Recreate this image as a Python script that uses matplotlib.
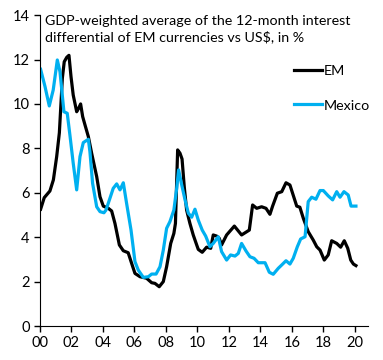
import matplotlib.pyplot as plt

# EM - GDP-weighted 12m interest differential, %
em_t = [2000.04, 2000.27, 2000.63, 2000.85, 2001.06, 2001.23, 2001.42, 2001.54, 2001.7, 2001.84,
        2001.97, 2002.11, 2002.33, 2002.45, 2002.58, 2002.71, 2002.86, 2003.07, 2003.28, 2003.6,
        2003.81, 2004.02, 2004.34, 2004.55, 2004.76, 2005.04, 2005.29, 2005.6, 2005.82, 2006.03,
        2006.35, 2006.77, 2007.09, 2007.3, 2007.57, 2007.83, 2008.04, 2008.3, 2008.5, 2008.6,
        2008.74, 2008.89, 2009.02, 2009.16, 2009.31, 2009.52, 2009.73, 2009.95, 2010.05, 2010.3,
        2010.58, 2010.84, 2011.0, 2011.22, 2011.38, 2011.53, 2011.85, 2012.34, 2012.8, 2013.29,
        2013.5, 2013.76, 2014.07, 2014.35, 2014.6, 2014.77, 2015.07, 2015.35, 2015.62, 2015.87,
        2016.3, 2016.5, 2016.72, 2017.03, 2017.35, 2017.57, 2017.78, 2018.05, 2018.3, 2018.52,
        2018.84, 2019.09, 2019.32, 2019.54, 2019.73, 2019.9, 2020.06]
em = [5.26, 5.78, 6.08, 6.58, 7.63, 8.7, 11.16, 11.9, 12.1, 12.19,
      11.23, 10.4, 9.65, 9.8, 10.0, 9.43, 9.05, 8.53, 7.78, 6.73,
      5.82, 5.4, 5.3, 5.18, 4.62, 3.65, 3.39, 3.3, 2.82, 2.37,
      2.22, 2.15, 1.95, 1.92, 1.77, 2.0, 2.67, 3.72, 4.17, 4.62,
      7.93, 7.78, 7.52, 6.27, 5.22, 4.62, 4.1, 3.65, 3.45, 3.32,
      3.55, 3.5, 4.1, 4.05, 3.95, 3.65, 4.1, 4.5, 4.1, 4.32,
      5.45, 5.3, 5.37, 5.3, 5.03, 5.4, 5.98, 6.05, 6.45, 6.35,
      5.4, 5.35, 4.85, 4.25, 3.87, 3.57, 3.42, 2.97, 3.2, 3.84,
      3.72, 3.55, 3.84, 3.5, 2.97, 2.79, 2.72]

# Mexico
mx_t = [2000.04, 2000.32, 2000.59, 2000.84, 2001.1, 2001.27, 2001.52, 2001.73, 2001.9, 2002.11,
        2002.33, 2002.54, 2002.75, 2003.07, 2003.17, 2003.34, 2003.6, 2003.81, 2004.06, 2004.19,
        2004.44, 2004.65, 2004.87, 2005.08, 2005.29, 2005.5, 2005.78, 2006.03, 2006.24, 2006.56,
        2006.88, 2007.09, 2007.37, 2007.62, 2007.83, 2008.04, 2008.25, 2008.5, 2008.68, 2008.8,
        2009.0, 2009.21, 2009.42, 2009.63, 2009.84, 2010.05, 2010.3, 2010.52, 2010.79, 2011.0,
        2011.32, 2011.53, 2011.85, 2012.1, 2012.38, 2012.59, 2012.8, 2013.08, 2013.33, 2013.59,
        2013.86, 2014.29, 2014.56, 2014.81, 2015.13, 2015.35, 2015.62, 2015.87, 2016.08, 2016.34,
        2016.55, 2016.83, 2017.03, 2017.25, 2017.52, 2017.78, 2017.99, 2018.3, 2018.58, 2018.84,
        2019.05, 2019.3, 2019.57, 2019.75, 2020.06]
mx = [11.56, 10.78, 9.91, 10.63, 11.98, 11.45, 9.65, 9.58, 8.6, 7.33,
      6.13, 7.63, 8.26, 8.41, 7.85, 6.43, 5.37, 5.15, 5.1, 5.22,
      5.75, 6.2, 6.4, 6.13, 6.45, 5.52, 4.32, 2.9, 2.52, 2.19,
      2.22, 2.34, 2.34, 2.67, 3.42, 4.4, 4.7, 5.22, 6.2, 7.03,
      6.35, 5.68, 5.08, 4.9, 5.26, 4.77, 4.32, 4.05, 3.57, 3.72,
      4.02, 3.35, 2.97, 3.2, 3.15, 3.27, 3.72, 3.38, 3.12, 3.05,
      2.85, 2.85, 2.42, 2.33, 2.6, 2.75, 2.94, 2.79, 3.05, 3.57,
      3.92, 4.02, 5.6, 5.8, 5.71, 6.1, 6.1, 5.86, 5.68, 6.05,
      5.8, 6.05, 5.9, 5.4, 5.4]

xticks = list(range(2000, 2021, 2))
xlabels = ["00", "02", "04", "06", "08", "10", "12", "14", "16", "18", "20"]

plt.rcParams['font.family'] = ['Lato', 'DejaVu Sans']
fig = plt.figure(figsize=(3.83, 3.6), dpi=100)
ax = fig.add_axes([0.1044, 0.0944, 0.8566, 0.8636])

ax.plot(em_t, em, color="black", lw=2.3, label="EM")
ax.plot(mx_t, mx, color="#00B0F0", lw=2.3, label="Mexico")

ax.set_xlim(2000, 2020.83)
ax.set_ylim(0, 14)
ax.set_xticks(xticks)
ax.set_xticklabels(xlabels)
ax.set_yticks(range(0, 15, 2))
ax.tick_params(labelsize=10.5, length=4, width=1, direction="out")
for s in ["top", "right"]:
    ax.spines[s].set_visible(False)

ax.text(0.015, 1.0, "GDP-weighted average of the 12-month interest\ndifferential of EM currencies vs US$, in %",
        transform=ax.transAxes, va="top", ha="left", fontsize=10.3, linespacing=1.3)

ax.legend(loc="upper right", bbox_to_anchor=(1.045, 0.88), frameon=False, fontsize=10.3,
          handlelength=2, handletextpad=0.1, labelspacing=1.55)

fig.savefig("out.png", dpi=100)
